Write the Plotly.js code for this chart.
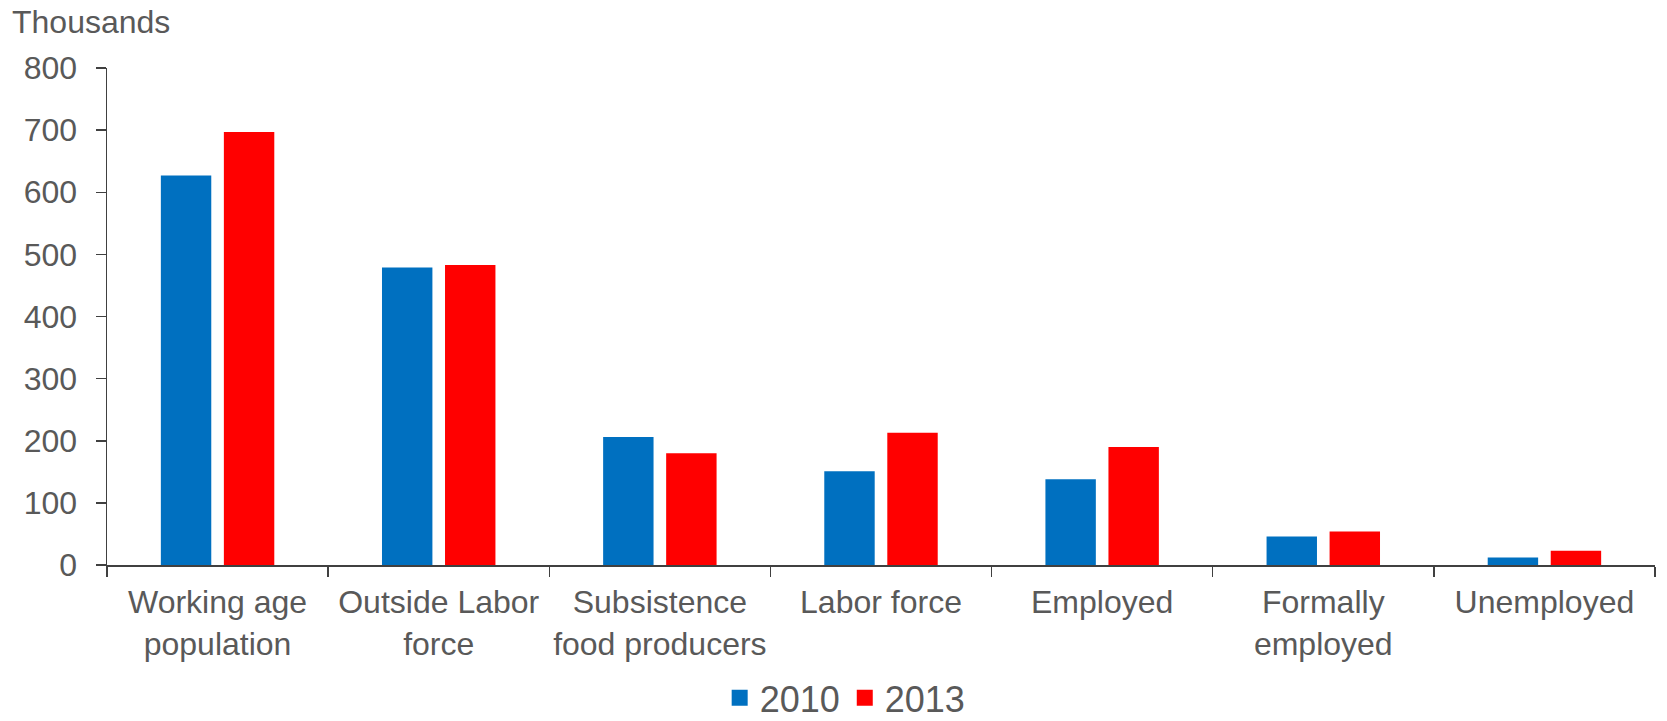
<!DOCTYPE html>
<html>
<head>
<meta charset="utf-8">
<script src="https://cdn.plot.ly/plotly-3.0.1.min.js"></script>
<style>html,body{margin:0;padding:0;background:#fff;}#chart{width:1667px;height:721px;}</style>
</head>
<body>
<div id="chart"></div>
<script>
const categories = ["Working age<br>population", "Outside Labor<br>force", "Subsistence<br>food producers", "Labor force", "Employed", "Formally<br>employed", "Unemployed"];
const seriesNames = ["2010", "2013"];
const series2010 = [627, 479, 206, 151, 138, 46, 12];
const series2013 = [697, 483, 180, 213, 190, 54, 23];
const yTicks = [0, 100, 200, 300, 400, 500, 600, 700, 800];
const colors = ["#0070C0", "#FF0000"];

const font = {family: "Liberation Sans, Arial, sans-serif", color: "#595959"};

const traces = [
  {type: "bar", name: seriesNames[0], legendgroup: "a", showlegend: false, x: categories, y: series2010, marker: {color: colors[0]}},
  {type: "bar", name: seriesNames[1], legendgroup: "b", showlegend: false, x: categories, y: series2013, marker: {color: colors[1]}},
  {type: "scatter", mode: "markers", name: seriesNames[0], legendgroup: "a", x: [null], y: [null], marker: {symbol: "square", size: 18, color: colors[0]}},
  {type: "scatter", mode: "markers", name: seriesNames[1], legendgroup: "b", x: [null], y: [null], marker: {symbol: "square", size: 18, color: colors[1]}}
];

const layout = {
  width: 1667, height: 721,
  margin: {l: 107, r: 12, t: 68, b: 156},
  paper_bgcolor: "#fff", plot_bgcolor: "#fff",
  font: Object.assign({size: 32}, font),
  barmode: "group",
  bargap: 0.43,
  bargroupgap: 0.2,
  showlegend: true,
  title: {text: "Thousands", x: 12/1667, xanchor: "left", xref: "container", y: 0.985, yanchor: "top", yref: "container",
          font: Object.assign({size: 32}, font)},
  xaxis: {
    type: "category",
    categoryarray: categories,
    automargin: false,
    tickangle: 0,
    showline: true, linecolor: "#404040", linewidth: 1.5,
    ticks: "outside", ticklen: 10, tickcolor: "#404040", tickwidth: 1.5,
    tickson: "boundaries",
    showgrid: false, zeroline: false,
    ticklabelstandoff: 8,
    tickfont: Object.assign({size: 32}, font)
  },
  yaxis: {
    range: [0, 800],
    tickvals: yTicks,
    automargin: false,
    showline: true, linecolor: "#404040", linewidth: 1.5,
    ticks: "outside", ticklen: 10, tickcolor: "#404040", tickwidth: 1.5,
    showgrid: false, zeroline: false,
    ticklabelstandoff: 12,
    tickfont: Object.assign({size: 32}, font)
  },
  legend: {
    orientation: "h", xref: "container", x: 0.507, xanchor: "center",
    yref: "container", y: 0.032, yanchor: "middle",
    font: Object.assign({size: 36}, font),
    itemwidth: 30
  }
};

Plotly.newPlot("chart", traces, layout, {displayModeBar: false, staticPlot: true});
</script>
</body>
</html>
